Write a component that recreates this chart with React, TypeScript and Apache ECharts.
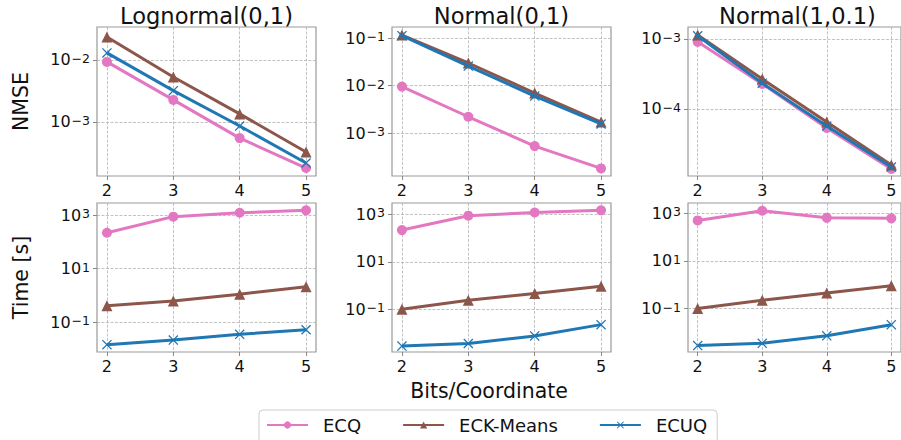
import React, { useEffect, useRef } from 'react';
import * as echarts from 'echarts';

// ---------- data ----------
const bits = [2, 3, 4, 5];
const methods = ['ECQ', 'ECK-Means', 'ECUQ'];
const titles = ['Lognormal(0,1)', 'Normal(0,1)', 'Normal(1,0.1)'];

// NMSE (top row)
const nmseLognormalECQ = [0.0093, 0.00227, 0.00055, 0.000181];
const nmseLognormalECK = [0.0235, 0.00532, 0.00135, 0.000328];
const nmseLognormalECUQ = [0.013, 0.0032, 0.00086, 0.000218];
const nmseNormal01ECQ = [0.0095, 0.0022, 0.00053, 0.00018];
const nmseNormal01ECK = [0.1157, 0.0298, 0.00695, 0.0017];
const nmseNormal01ECUQ = [0.112, 0.0257, 0.006, 0.00155];
const nmseNormal1ECQ = [0.00091, 0.000228, 0.0000535, 0.0000139];
const nmseNormal1ECK = [0.00114, 0.000268, 0.000065, 0.0000158];
const nmseNormal1ECUQ = [0.00111, 0.000234, 0.000057, 0.0000148];

// Time [s] (bottom row)
const timeLognormalECQ = [217, 870, 1220, 1500];
const timeLognormalECK = [0.41, 0.61, 1.1, 2.1];
const timeLognormalECUQ = [0.0143, 0.0212, 0.0347, 0.0515];
const timeNormal01ECQ = [218, 880, 1200, 1480];
const timeNormal01ECK = [0.1, 0.24, 0.46, 0.93];
const timeNormal01ECUQ = [0.0028, 0.0036, 0.0075, 0.0225];
const timeNormal1ECQ = [490, 1250, 630, 600];
const timeNormal1ECK = [0.1, 0.22, 0.45, 0.9];
const timeNormal1ECUQ = [0.0028, 0.0035, 0.0072, 0.021];

// axis ticks / ranges
const xTicks = [2, 3, 4, 5];
const nmseTicks = [[1e-3, 1e-2], [1e-3, 1e-2, 1e-1], [1e-4, 1e-3]];
const timeTicks = [0.1, 10, 1000];
const nmseRange = [[1.346e-4, 0.034], [1.245e-4, 0.1706], [1.104e-5, 1.483e-3]];
const timeRange = [[7.59e-3, 2818], [1.58e-3, 3020], [1.51e-3, 2630]];

// ---------- styling ----------
const FONT = 'DejaVu Sans';
const TXT = '#111';
const colors = ['#e377c2', '#8c564b', '#1f77b4'];
const X_PATH =
  'path://M0,0.9L0.9,0L5,4.1L9.1,0L10,0.9L5.9,5L10,9.1L9.1,10L5,5.9L0.9,10L0,9.1L4.1,5Z';
const symbols = ['circle', 'triangle', X_PATH];
const symbolSizes = [10, 11, 10];

const colLeft = [97, 392, 688];
const colWidth = 219;
const rowTop = [27, 203];
const rowHeight = 149;

const nmseData = [
  [nmseLognormalECQ, nmseLognormalECK, nmseLognormalECUQ],
  [nmseNormal01ECQ, nmseNormal01ECK, nmseNormal01ECUQ],
  [nmseNormal1ECQ, nmseNormal1ECK, nmseNormal1ECUQ],
];
const timeData = [
  [timeLognormalECQ, timeLognormalECK, timeLognormalECUQ],
  [timeNormal01ECQ, timeNormal01ECK, timeNormal01ECUQ],
  [timeNormal1ECQ, timeNormal1ECK, timeNormal1ECUQ],
];

function expLabel(v: number) {
  const e = Math.round(Math.log10(v));
  const s = e < 0 ? '\u2212' + String(-e) : String(e);
  return '{b|10}{s|' + s + '}';
}

function buildOption() {
  const grids: any[] = [];
  const xAxes: any[] = [];
  const yAxes: any[] = [];
  const series: any[] = [];
  let idx = 0;
  for (let r = 0; r < 2; r++) {
    for (let c = 0; c < 3; c++) {
      grids.push({
        left: colLeft[c],
        top: rowTop[r],
        width: colWidth,
        height: rowHeight,
        show: true,
        borderColor: '#999',
        borderWidth: 1.2,
        backgroundColor: 'transparent',
        containLabel: false,
      });
      xAxes.push({
        type: 'value',
        gridIndex: idx,
        min: 1.85,
        max: 5.15,
        axisLine: { show: false },
        axisTick: { show: true, length: 4, customValues: xTicks, lineStyle: { color: '#888', width: 1 } },
        axisLabel: {
          customValues: xTicks,
          margin: 6,
          fontSize: 16,
          fontFamily: FONT,
          color: TXT,
          formatter: (v: number) => String(Math.round(v)),
        },
        splitLine: { show: true, lineStyle: { color: '#b3b3b3', width: 0.8, type: [3, 1.5] } },
      });
      const ticks = r === 0 ? nmseTicks[c] : timeTicks;
      const range = r === 0 ? nmseRange[c] : timeRange[c];
      yAxes.push({
        type: 'log',
        logBase: 10,
        gridIndex: idx,
        min: range[0],
        max: range[1],
        axisLine: { show: false },
        axisTick: { show: true, length: 4, customValues: ticks, lineStyle: { color: '#888', width: 1 } },
        axisLabel: {
          customValues: ticks,
          margin: 7,
          formatter: expLabel,
          rich: {
            b: { fontSize: 16, fontFamily: FONT, color: TXT },
            s: { fontSize: 12.5, fontFamily: FONT, color: TXT, verticalAlign: 'top', padding: [0, 0, 0, 1] },
          },
        },
        splitLine: { show: true, lineStyle: { color: '#b3b3b3', width: 0.8, type: [3, 1.5] } },
      });
      const dataSet = r === 0 ? nmseData[c] : timeData[c];
      for (let m = 0; m < 3; m++) {
        series.push({
          name: methods[m],
          type: 'line',
          xAxisIndex: idx,
          yAxisIndex: idx,
          data: bits.map((b, k) => [b, dataSet[m][k]]),
          symbol: symbols[m],
          symbolSize: symbolSizes[m],
          symbolKeepAspect: true,
          showAllSymbol: true,
          lineStyle: { color: colors[m], width: 3 },
          itemStyle: { color: colors[m] },
          emphasis: { disabled: true },
          clip: false,
          z: 2 + m,
        });
      }
      idx++;
    }
  }

  const graphic: any[] = [];
  titles.forEach((t, c) => {
    graphic.push({
      type: 'text',
      x: colLeft[c] + colWidth / 2,
      y: 15.5,
      style: {
        text: t,
        fontSize: 22.6,
        fontFamily: FONT,
        fill: TXT,
        align: 'center',
        verticalAlign: 'middle',
        textAlign: 'center',
        textVerticalAlign: 'middle',
      },
    });
  });
  const ylabels = ['NMSE', 'Time [s]'];
  ylabels.forEach((t, r) => {
    graphic.push({
      type: 'text',
      x: 21,
      y: rowTop[r] + rowHeight / 2,
      rotation: Math.PI / 2,
      style: {
        text: t,
        fontSize: 20.5,
        fontFamily: FONT,
        fill: TXT,
        align: 'center',
        verticalAlign: 'middle',
        textAlign: 'center',
        textVerticalAlign: 'middle',
      },
    });
  });
  graphic.push({
    type: 'text',
    x: 489,
    y: 390.5,
    style: {
      text: 'Bits/Coordinate',
      fontSize: 20.5,
      fontFamily: FONT,
      fill: TXT,
      align: 'center',
      verticalAlign: 'middle',
      textAlign: 'center',
      textVerticalAlign: 'middle',
    },
  });

  return {
    animation: false,
    backgroundColor: '#fff',
    textStyle: { fontFamily: FONT },
    grid: grids,
    xAxis: xAxes,
    yAxis: yAxes,
    series,
    graphic,
    legend: {
      data: methods,
      left: 259,
      top: 410,
      orient: 'horizontal',
      itemWidth: 41,
      itemHeight: 9,
      itemGap: 41,
      padding: [6, 10, 20, 7],
      borderColor: '#cccccc',
      borderWidth: 1,
      borderRadius: 4,
      backgroundColor: '#fff',
      textStyle: { fontSize: 18, fontFamily: FONT, color: TXT, padding: [0, 0, 0, 10] },
    },
  };
}

export default function App() {
  const ref = useRef<HTMLDivElement>(null);
  useEffect(() => {
    if (!ref.current) return;
    const chart = echarts.init(ref.current, null, { renderer: 'svg' });
    chart.setOption(buildOption() as any);
    return () => chart.dispose();
  }, []);
  return (
    <div
      ref={ref}
      style={{ position: 'absolute', left: 0, top: 0, width: 901, height: 440 }}
    />
  );
}
